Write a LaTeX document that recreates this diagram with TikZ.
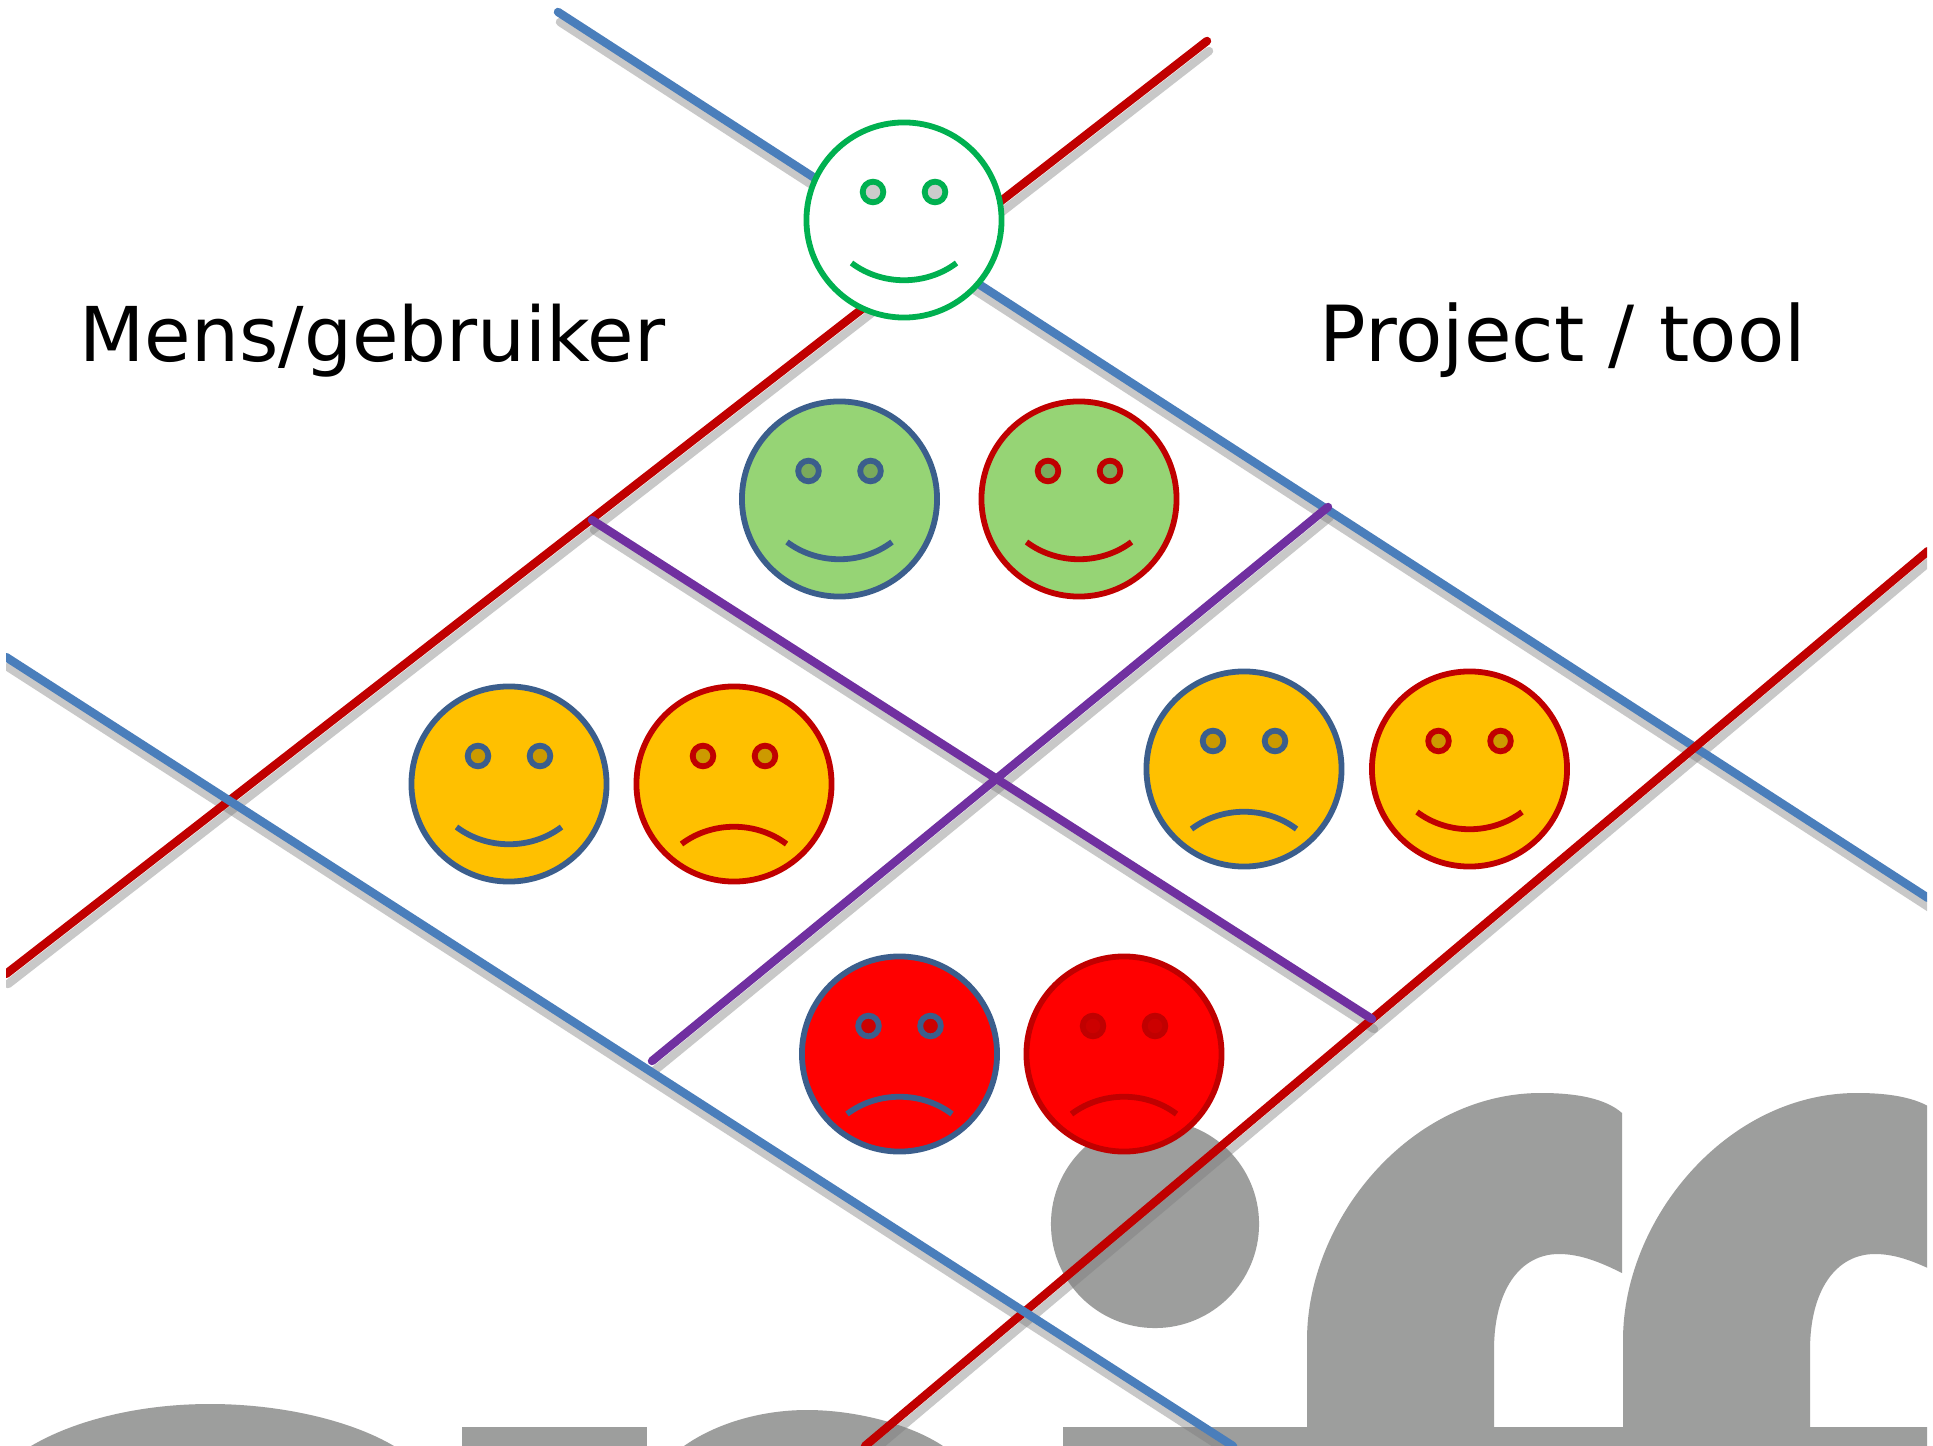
\documentclass[tikz,border=0pt]{standalone}
\usepackage{fontspec}
\setmainfont{DejaVu Sans}
\definecolor{lineblue}{HTML}{4A7EBB}
\definecolor{faceblue}{HTML}{3B5E8C}
\definecolor{linered}{HTML}{C00000}
\definecolor{linepurple}{HTML}{7030A0}
\definecolor{facegreen}{HTML}{00B050}
\definecolor{fillgreen}{HTML}{96D475}
\definecolor{eyegreen}{HTML}{7AAA5C}
\definecolor{fillorange}{HTML}{FFC000}
\definecolor{eyeorange}{HTML}{CC9A00}
\definecolor{fillred}{HTML}{FF0000}
\definecolor{eyered}{HTML}{CC0000}
\definecolor{logogrey}{HTML}{9D9E9D}
\definecolor{shadowgrey}{HTML}{7C7C7C}
\tikzset{
  faceline/.style={line width=1.65pt},
  head/.style={circle,draw,faceline,minimum size=1.95cm,inner sep=0pt,outer sep=0pt},
  label/.style={anchor=base west,inner sep=0pt,font=\fontsize{21.5}{26}\selectfont},
  bar/.style={line width=2.4pt,line cap=round},
}
% name, position, fill, line colour, eye fill, mouth end, mouth control
\newcommand{\smiley}[7]{
  \node[head,fill=#3,draw=#4] (#1) at (#2) {};
  \draw[faceline,draw=#4,fill=#5] ([shift={(-31,-28)}]#1.center) circle (1.03mm);
  \draw[faceline,draw=#4,fill=#5] ([shift={(31,-28)}]#1.center) circle (1.03mm);
  \draw[faceline,draw=#4] ([shift={(-52.5,#6)}]#1.center) .. controls ([shift={(-22,#7)}]#1.center) and ([shift={(22,#7)}]#1.center) .. ([shift={(52.5,#6)}]#1.center);
}
\begin{document}
\begin{tikzpicture}[x=0.01cm,y=-0.01cm]
\useasboundingbox (0,0) rectangle (1933,1446);
\fill[white] (0,0) rectangle (1933,1446);
\begin{scope}
\clip (6,0) rectangle (1927,1446);
% logo behind everything
\fill[logogrey] (1155,1224) circle (1.04cm);
\fill[logogrey] (1063,1427) rectangle (1933,1446);
\fill[logogrey] (462,1427) rectangle (647,1446);
\fill[logogrey] (31,1446) .. controls (75,1420) and (140,1404) .. (210,1404) .. controls (280,1404) and (350,1420) .. (394,1446) -- cycle;
\fill[logogrey] (684,1446) .. controls (715,1424) and (760,1410) .. (807,1410) .. controls (855,1410) and (910,1424) .. (943,1446) -- cycle;
\foreach \dx in {0,316}{
  \fill[logogrey,xshift=\dx*0.01cm] (1307,1430) -- (1307,1340) .. controls (1307,1220) and (1410,1093) .. (1541,1093) .. controls (1575,1093) and (1605,1098) .. (1622,1113) -- (1622,1273) .. controls (1600,1262) and (1580,1254) .. (1559,1254) .. controls (1520,1254) and (1494,1290) .. (1494,1350) -- (1494,1430) -- cycle;
}
\coordinate (blueAstart) at (558,12);
\coordinate (blueAend) at (1928,898);
\coordinate (blueBstart) at (6,657);
\coordinate (blueBend) at (1233,1446);
\coordinate (redAstart) at (1207,41);
\coordinate (redAend) at (6,974);
\coordinate (redBstart) at (1928,551);
\coordinate (redBend) at (865,1446);
\coordinate (purpleAstart) at (592,520);
\coordinate (purpleAend) at (1372,1019);
\coordinate (purpleBstart) at (1328,507);
\coordinate (purpleBend) at (652,1061);
% shadows first
\begin{scope}[transform canvas={xshift=0.2mm,yshift=-1mm}]
\foreach \from/\to in {blueAstart/blueAend,blueBstart/blueBend,redAstart/redAend,redBstart/redBend,purpleAstart/purpleAend,purpleBstart/purpleBend}
  \draw[bar,shadowgrey,opacity=.42] (\from) -- (\to);
\end{scope}
\draw[bar,linered] (redAstart) -- (redAend);
\draw[bar,lineblue] (blueAstart) -- (blueAend);
\draw[bar,linered] (redBstart) -- (redBend);
\draw[bar,lineblue] (blueBstart) -- (blueBend);
\draw[bar,linepurple] (purpleAstart) -- (purpleAend);
\draw[bar,linepurple] (purpleBstart) -- (purpleBend);
\end{scope}
\node[label] (mens) at (79,362) {Mens/gebruiker};
\node[label,font=\fontsize{22}{26}\selectfont] (project) at (1319,362) {Project / tool};
\smiley{top}{904,220}{white}{facegreen}{black!20}{43}{66}
\smiley{greenL}{839.5,499}{fillgreen}{faceblue}{eyegreen}{43}{66}
\smiley{greenR}{1079,499}{fillgreen}{linered}{eyegreen}{43}{66}
\smiley{orangeA}{509,784}{fillorange}{faceblue}{eyeorange}{43}{66}
\smiley{orangeB}{734,784}{fillorange}{linered}{eyeorange}{60}{37}
\smiley{orangeC}{1244,769}{fillorange}{faceblue}{eyeorange}{60}{37}
\smiley{orangeD}{1469.5,769}{fillorange}{linered}{eyeorange}{43}{66}
\smiley{redL}{899.5,1054}{fillred}{faceblue}{eyered}{60}{37}
\smiley{redR}{1124,1054}{fillred}{linered}{eyered}{60}{37}
\end{tikzpicture}
\end{document}
